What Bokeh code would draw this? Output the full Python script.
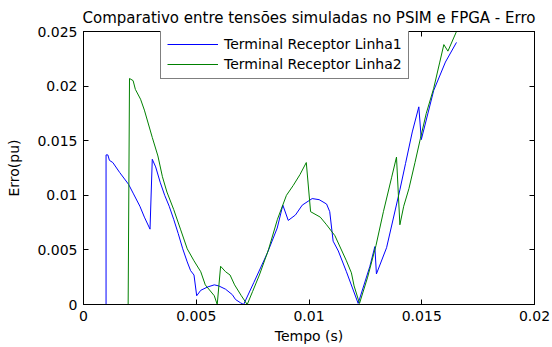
from bokeh.plotting import figure
from bokeh.models import Range1d, LinearAxis, FixedTicker, PrintfTickFormatter, CustomJSTickFormatter, Legend, LegendItem
from bokeh.embed import file_html
from bokeh.resources import INLINE

title_text = "Comparativo entre tensões simuladas no PSIM e FPGA - Erro"
x_label = "Tempo (s)"
y_label = "Erro(pu)"
series_names = ["Terminal Receptor Linha1", "Terminal Receptor Linha2"]
x_ticks = [0, 0.005, 0.01, 0.015, 0.02]
y_ticks = [0, 0.005, 0.01, 0.015, 0.02, 0.025]

linha1_t = [0, 0.001, 0.001, 0.00108, 0.00115, 0.0013, 0.0016, 0.002, 0.0022, 0.0025, 0.0027, 0.00295,
            0.00305, 0.0032, 0.0034, 0.0036, 0.0038, 0.004, 0.0042, 0.0044, 0.0046, 0.00475, 0.0049,
            0.00502, 0.0052, 0.0055, 0.0058, 0.006, 0.0063, 0.0066, 0.00674, 0.00696, 0.0071,
            0.00755, 0.00815, 0.00859, 0.00884, 0.00908, 0.0094, 0.0097, 0.01014, 0.01045, 0.01078,
            0.01092, 0.01107, 0.0113, 0.01166, 0.01218, 0.0127, 0.01292, 0.01299, 0.01344, 0.01403,
            0.01428, 0.01458, 0.01487, 0.01498, 0.01553, 0.01605, 0.01654]
linha1_e = [0, 0, 0.0137, 0.0137, 0.0132, 0.0130, 0.0121, 0.0110, 0.0102, 0.0090, 0.0080, 0.0069,
            0.0133, 0.0126, 0.0112, 0.0100, 0.0090, 0.0078, 0.0065, 0.0051, 0.0039, 0.0031, 0.0027,
            0.0008, 0.0013, 0.0016, 0.0018, 0.0017, 0.0014, 0.0009, 0.00046, 0.00016, 0.0,
            0.0020, 0.0047, 0.0070, 0.0091, 0.0077, 0.0082, 0.0091, 0.0097, 0.0096, 0.0092,
            0.0085, 0.0058, 0.0049, 0.0030, 0.0001, 0.0035, 0.0053, 0.0028, 0.0052, 0.0105,
            0.0129, 0.0158, 0.0181, 0.0151, 0.0196, 0.0222, 0.0240]

linha2_t = [0, 0.00198, 0.00204, 0.0022, 0.0023, 0.00253, 0.0027, 0.00305, 0.0033, 0.0035, 0.0037,
            0.004, 0.0043, 0.0046, 0.0049, 0.0052, 0.0054, 0.0058, 0.00593, 0.00608, 0.0063, 0.0065,
            0.0067, 0.007, 0.00726, 0.0075, 0.0078, 0.0082, 0.0086, 0.009, 0.0093, 0.0096, 0.00988,
            0.01007, 0.0105, 0.01078, 0.01115, 0.01166, 0.01188, 0.012, 0.01224, 0.0126, 0.01297,
            0.0133, 0.01366, 0.01388, 0.01403, 0.0142, 0.01443, 0.0147, 0.01494, 0.0152, 0.01553,
            0.0158, 0.01598, 0.01616, 0.01654]
linha2_e = [0, 0, 0.0207, 0.0205, 0.0197, 0.0188, 0.0178, 0.0153, 0.0136, 0.0117, 0.0103,
            0.0087, 0.0069, 0.0051, 0.0040, 0.0030, 0.0018, 0.0008, 0.0, 0.0035, 0.0030, 0.0027,
            0.0018, 0.0008, 0.0, 0.0012, 0.0027, 0.0050, 0.0078, 0.0100, 0.0109, 0.0119, 0.0130,
            0.0085, 0.0080, 0.0073, 0.0063, 0.0040, 0.0029, 0.0017, 0.0001, 0.0025, 0.0054,
            0.0085, 0.0116, 0.0135, 0.0073, 0.0090, 0.0106, 0.0130, 0.0152, 0.0175, 0.0198,
            0.0222, 0.0238, 0.0232, 0.0250]

FONT = "DejaVu Sans"

p = figure(width=552, height=347, output_backend="svg", toolbar_location=None,
           x_range=Range1d(0, 0.02), y_range=Range1d(0, 0.025),
           min_border_left=83, min_border_right=18, min_border_top=31, min_border_bottom=43)
p.title.text = title_text
p.title.text_font = FONT
p.title.text_font_size = "15px"
p.title.text_font_style = "normal"
p.title.text_color = "black"
p.title.align = "center"
p.title.standoff = 9

p.grid.visible = False
p.outline_line_color = "black"
p.outline_line_width = 1
p.background_fill_color = "white"
p.border_fill_color = "white"

r1 = p.line(linha1_t, linha1_e, line_color="#0000ff", line_width=1)
r2 = p.line(linha2_t, linha2_e, line_color="#008000", line_width=1)

for ax, ticks in ((p.xaxis[0], x_ticks), (p.yaxis[0], y_ticks)):
    ax.ticker = FixedTicker(ticks=ticks)
    ax.formatter = PrintfTickFormatter(format="%g")
    ax.major_tick_in = 5
    ax.major_tick_out = 0
    ax.minor_tick_line_color = None
    ax.axis_line_color = "black"
    ax.major_tick_line_color = "black"
    ax.major_label_text_font = FONT
    ax.major_label_text_font_size = "14px"
    ax.major_label_text_color = "black"
    ax.axis_label_text_font = FONT
    ax.axis_label_text_font_size = "14px"
    ax.axis_label_text_font_style = "normal"
    ax.axis_label_text_color = "black"
    ax.major_label_standoff = 6

p.xaxis.axis_label = x_label
p.yaxis.axis_label = y_label
p.xaxis.axis_label_standoff = 4
p.yaxis.axis_label_standoff = 12

for side, ticks in (("right", y_ticks), ("above", x_ticks)):
    a = LinearAxis(ticker=FixedTicker(ticks=ticks),
                   formatter=CustomJSTickFormatter(code="return ''"),
                   major_tick_in=5, major_tick_out=0, minor_tick_line_color=None,
                   axis_line_color="black", major_tick_line_color="black",
                   major_label_standoff=0, major_label_text_font_size="1px")
    p.add_layout(a, side)

legend = Legend(items=[LegendItem(label=series_names[0], renderers=[r1]),
                       LegendItem(label=series_names[1], renderers=[r2])],
                location=(77, 225), orientation="vertical",
                label_text_font=FONT, label_text_font_size="14px", label_text_color="black",
                glyph_width=51, glyph_height=16, label_height=16, label_standoff=6,
                spacing=4, padding=6, margin=0,
                border_line_color="black", border_line_width=1,
                background_fill_color="white", background_fill_alpha=1)
p.add_layout(legend, "center")

open("out.html", "w").write(file_html(p, INLINE))
